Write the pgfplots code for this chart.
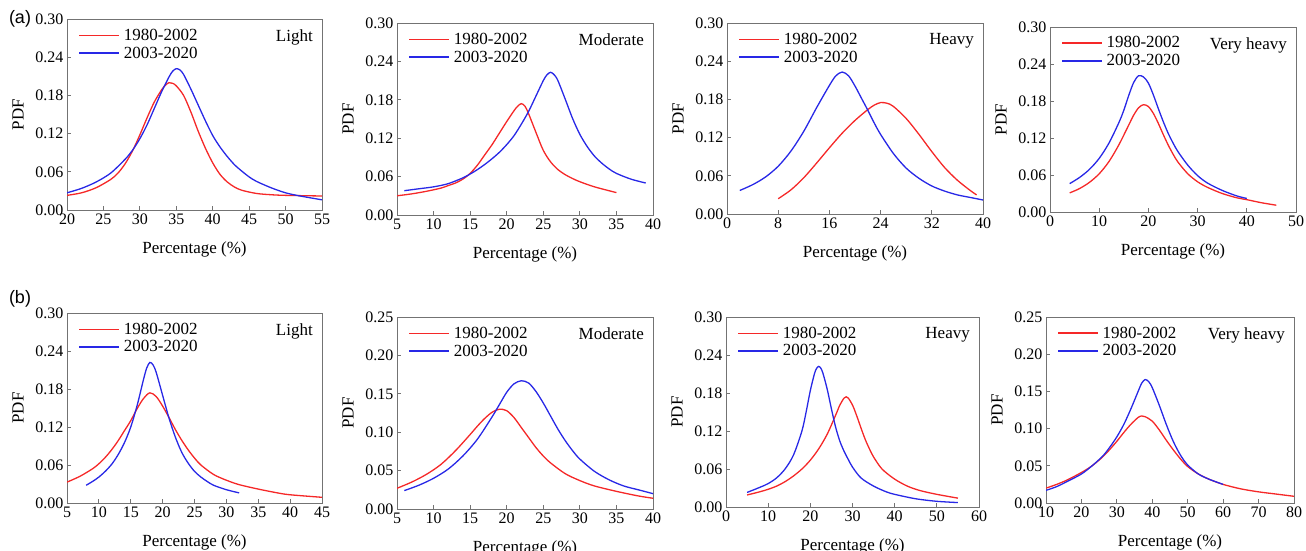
\documentclass[border=0pt]{standalone}
\usepackage{pgfplots}
\pgfplotsset{compat=1.18}
\usepackage{fontspec}
\setmainfont{Liberation Serif}
\newfontfamily\sansf{Liberation Sans}
\definecolor{cred}{RGB}{245,40,40}
\definecolor{cblue}{RGB}{40,40,230}
\pgfplotsset{
  pdfax/.style={
    scale only axis,
    anchor=north west,
    axis line style={draw=black!55, line width=0.8pt},
    tick style={draw=black!55, line width=0.8pt},
    tick align=inside,
    major tick length=4pt,
    xtick pos=bottom, ytick pos=left,
    ymin=0,
    /pgf/number format/assume math mode=true,
    tick label style={font=\fontsize{16}{16}\selectfont},
    yticklabel style={/pgf/number format/.cd, fixed, fixed zerofill, precision=2},
    xticklabel style={/pgf/number format/.cd, fixed, precision=0},
    xlabel={Percentage (\%)}, ylabel={PDF},
    every axis x label/.style={at={([yshift=-39pt]axis description cs:0.5,0)}, anchor=center, font=\fontsize{17}{17}\selectfont},
    every axis y label/.style={at={([xshift=-49pt]axis description cs:0,0.5)}, rotate=90, anchor=center, font=\fontsize{17}{17}\selectfont},
    legend style={draw=none, fill=none, at={(0.042,0.965)}, anchor=north west, font=\fontsize{17}{17}\selectfont, row sep=1pt, column sep=3pt, inner sep=1pt},
    legend cell align=left,
    legend image code/.code={\fill[#1, draw=none] (0pt,-0.7pt) rectangle (40pt,0.7pt);},
    every axis plot/.append style={line width=1.3pt, smooth, mark=none},
  },
  ytA/.style={ymax=0.30, ytick={0,0.06,0.12,0.18,0.24,0.30}},
  ytB/.style={ymax=0.25, ytick={0,0.05,0.10,0.15,0.20,0.25}},
}
\newcommand{\corner}[1]{\node[anchor=north east, font=\fontsize{17}{17}\selectfont, inner sep=0pt] at ([xshift=-9pt,yshift=-10pt]rel axis cs:1,1) {#1};}
\begin{document}
\begin{tikzpicture}
\path[use as bounding box] (0pt,0pt) rectangle (1306pt,-550pt);
\node[font=\sansf\fontsize{18}{18}\selectfont] at (20pt,-19pt) {(a)};
\node[font=\sansf\fontsize{18}{18}\selectfont] at (20pt,-299pt) {(b)};

% a1 Light
\begin{axis}[pdfax, ytA, at={(67pt,-19pt)}, width=255pt, height=191pt,
  xmin=20, xmax=55, xtick={20,25,30,35,40,45,50,55}]
\addplot[cred] coordinates {(20,0.023)(22,0.027)(24,0.035)(26,0.048)(27,0.058)(28,0.073)(29,0.093)(30,0.118)(31,0.145)(32,0.170)(33,0.189)(33.5,0.196)(34,0.200)(34.5,0.199)(35,0.195)(36,0.180)(37,0.154)(38,0.124)(39,0.097)(40,0.074)(41,0.056)(42,0.044)(43,0.036)(44,0.031)(46,0.026)(48,0.024)(50,0.023)(55,0.022)};
\addplot[cblue] coordinates {(20,0.027)(22,0.034)(24,0.044)(26,0.058)(28,0.080)(29,0.094)(30,0.112)(31,0.134)(32,0.160)(33,0.186)(34,0.209)(34.5,0.218)(35,0.222)(35.5,0.220)(36,0.213)(37,0.190)(38,0.165)(39,0.140)(40,0.117)(41,0.099)(42,0.084)(43,0.071)(44,0.061)(45,0.052)(46,0.045)(48,0.035)(50,0.027)(52,0.022)(55,0.016)};
\legend{1980-2002,2003-2020}
\corner{Light}
\end{axis}

% a2 Moderate
\begin{axis}[pdfax, ytA, at={(397pt,-23pt)}, width=256pt, height=192pt,
  xmin=5, xmax=40, xtick={5,10,15,20,25,30,35,40}]
\addplot[cred] coordinates {(5,0.030)(7,0.033)(9,0.037)(11,0.042)(12,0.046)(13,0.050)(14,0.056)(15,0.065)(16,0.078)(17,0.094)(18,0.110)(19,0.128)(20,0.146)(21,0.163)(21.5,0.170)(22,0.174)(22.5,0.170)(23,0.158)(24,0.129)(25,0.101)(26,0.083)(27,0.071)(28,0.063)(29,0.057)(30,0.052)(32,0.044)(35,0.035)};
\addplot[cblue] coordinates {(6,0.038)(8,0.041)(10,0.044)(12,0.049)(14,0.058)(15,0.064)(16,0.071)(17,0.079)(18,0.088)(19,0.098)(20,0.110)(21,0.124)(22,0.142)(23,0.162)(24,0.186)(25,0.210)(25.5,0.219)(26,0.223)(26.5,0.219)(27,0.210)(28,0.181)(29,0.151)(30,0.126)(31,0.107)(32,0.092)(33,0.081)(34,0.072)(35,0.065)(37,0.056)(39,0.050)};
\legend{1980-2002,2003-2020}
\corner{Moderate}
\end{axis}

% a3 Heavy
\begin{axis}[pdfax, ytA, at={(727pt,-23pt)}, width=256pt, height=191pt,
  xmin=0, xmax=40, xtick={0,8,16,24,32,40}]
\addplot[cred] coordinates {(8,0.024)(10,0.038)(12,0.057)(14,0.080)(16,0.104)(18,0.127)(20,0.147)(22,0.164)(23,0.171)(24,0.175)(25,0.174)(26,0.169)(28,0.150)(30,0.125)(32,0.098)(34,0.073)(36,0.053)(38,0.037)(39,0.030)};
\addplot[cblue] coordinates {(2,0.037)(4,0.046)(6,0.058)(8,0.075)(10,0.099)(12,0.130)(14,0.167)(16,0.202)(17,0.217)(18,0.223)(19,0.217)(20,0.201)(21,0.182)(22,0.163)(23,0.143)(24,0.125)(26,0.095)(28,0.072)(30,0.056)(32,0.044)(34,0.036)(36,0.030)(38,0.026)(40,0.022)};
\legend{1980-2002,2003-2020}
\corner{Heavy}
\end{axis}

% a4 Very heavy
\begin{axis}[pdfax, ytA, at={(1050pt,-27pt)}, width=246pt, height=185pt,
  xmin=0, xmax=50, xtick={0,10,20,30,40,50}]
\addplot[cred] coordinates {(4,0.031)(6,0.038)(8,0.048)(10,0.062)(12,0.082)(14,0.109)(16,0.141)(17,0.157)(18,0.169)(19,0.174)(20,0.171)(21,0.160)(22,0.144)(23,0.126)(24,0.109)(25,0.094)(26,0.081)(28,0.062)(30,0.049)(32,0.040)(35,0.030)(38,0.023)(40,0.020)(43,0.015)(46,0.011)};
\addplot[cblue] coordinates {(4,0.046)(6,0.056)(8,0.069)(10,0.087)(12,0.112)(14,0.145)(15,0.165)(16,0.189)(17,0.210)(18,0.221)(19,0.219)(20,0.209)(21,0.190)(22,0.168)(23,0.147)(24,0.128)(25,0.112)(26,0.098)(28,0.076)(30,0.059)(32,0.047)(35,0.035)(38,0.026)(40,0.022)};
\legend{1980-2002,2003-2020}
\corner{Very heavy}
\end{axis}

% b1 Light
\begin{axis}[pdfax, ytA, at={(67pt,-313pt)}, width=255pt, height=190pt,
  xmin=5, xmax=45, xtick={5,10,15,20,25,30,35,40,45}]
\addplot[cred] coordinates {(5,0.033)(7,0.042)(9,0.054)(10,0.062)(11,0.072)(12,0.084)(13,0.098)(14,0.114)(15,0.130)(16,0.149)(17,0.165)(18,0.174)(19,0.168)(20,0.153)(21,0.135)(22,0.116)(23,0.099)(24,0.084)(25,0.071)(26,0.060)(28,0.045)(30,0.036)(32,0.029)(35,0.022)(38,0.016)(40,0.013)(45,0.009)};
\addplot[cblue] coordinates {(8,0.028)(9,0.034)(10,0.041)(11,0.050)(12,0.061)(13,0.076)(14,0.095)(15,0.120)(16,0.154)(17,0.195)(17.5,0.213)(18,0.222)(18.5,0.218)(19,0.206)(20,0.170)(21,0.134)(22,0.104)(23,0.080)(24,0.063)(25,0.050)(26,0.041)(27,0.034)(28,0.028)(30,0.021)(32,0.016)};
\legend{1980-2002,2003-2020}
\corner{Light}
\end{axis}

% b2 Moderate
\begin{axis}[pdfax, ytB, at={(397pt,-317pt)}, width=256pt, height=192pt,
  xmin=5, xmax=40, xtick={5,10,15,20,25,30,35,40}]
\addplot[cred] coordinates {(5,0.027)(7,0.035)(9,0.045)(11,0.058)(13,0.076)(15,0.097)(16,0.108)(17,0.118)(18,0.126)(19,0.130)(20,0.128)(21,0.119)(22,0.106)(23,0.093)(24,0.080)(25,0.069)(26,0.060)(28,0.046)(30,0.037)(32,0.030)(35,0.023)(38,0.017)(40,0.014)};
\addplot[cblue] coordinates {(6,0.024)(8,0.031)(10,0.040)(12,0.052)(14,0.069)(16,0.091)(18,0.120)(19,0.136)(20,0.152)(21,0.163)(22,0.167)(23,0.164)(24,0.153)(25,0.138)(26,0.121)(27,0.104)(28,0.089)(29,0.076)(30,0.065)(32,0.049)(34,0.038)(36,0.030)(38,0.025)(40,0.020)};
\legend{1980-2002,2003-2020}
\corner{Moderate}
\end{axis}

% b3 Heavy
\begin{axis}[pdfax, ytA, at={(726pt,-317pt)}, width=253pt, height=190pt,
  xmin=0, xmax=60, xtick={0,10,20,30,40,50,60}]
\addplot[cred] coordinates {(5,0.019)(8,0.024)(10,0.028)(12,0.033)(14,0.040)(16,0.049)(18,0.060)(20,0.074)(22,0.092)(24,0.115)(26,0.145)(27,0.161)(28,0.172)(28.5,0.174)(29,0.172)(30,0.161)(31,0.144)(32,0.125)(33,0.107)(34,0.092)(35,0.079)(37,0.060)(40,0.044)(43,0.033)(46,0.026)(50,0.020)(55,0.014)};
\addplot[cblue] coordinates {(5,0.023)(8,0.031)(10,0.037)(12,0.046)(14,0.060)(16,0.082)(18,0.120)(19,0.150)(20,0.184)(21,0.211)(21.5,0.219)(22,0.222)(22.5,0.219)(23,0.211)(24,0.186)(25,0.155)(26,0.126)(27,0.104)(28,0.088)(29,0.075)(30,0.063)(32,0.046)(35,0.033)(38,0.024)(40,0.020)(45,0.013)(50,0.009)(55,0.007)};
\legend{1980-2002,2003-2020}
\corner{Heavy}
\end{axis}

% b4 Very heavy
\begin{axis}[pdfax, ytB, at={(1046pt,-317pt)}, width=248pt, height=186pt,
  xmin=10, xmax=80, xtick={10,20,30,40,50,60,70,80}]
\addplot[cred] coordinates {(10,0.020)(13,0.025)(16,0.031)(20,0.041)(23,0.050)(26,0.062)(28,0.072)(30,0.083)(32,0.095)(34,0.106)(36,0.115)(37,0.117)(38,0.116)(40,0.110)(42,0.098)(44,0.084)(46,0.071)(48,0.059)(50,0.049)(53,0.039)(56,0.032)(60,0.025)(65,0.019)(70,0.015)(75,0.012)(80,0.009)};
\addplot[cblue] coordinates {(10,0.017)(13,0.022)(16,0.029)(20,0.039)(23,0.050)(26,0.063)(28,0.075)(30,0.089)(32,0.106)(34,0.127)(36,0.150)(37,0.161)(38,0.166)(39,0.163)(40,0.155)(42,0.131)(44,0.105)(46,0.082)(48,0.064)(50,0.051)(53,0.039)(56,0.032)(60,0.025)};
\legend{1980-2002,2003-2020}
\corner{Very heavy}
\end{axis}
\end{tikzpicture}
\end{document}
